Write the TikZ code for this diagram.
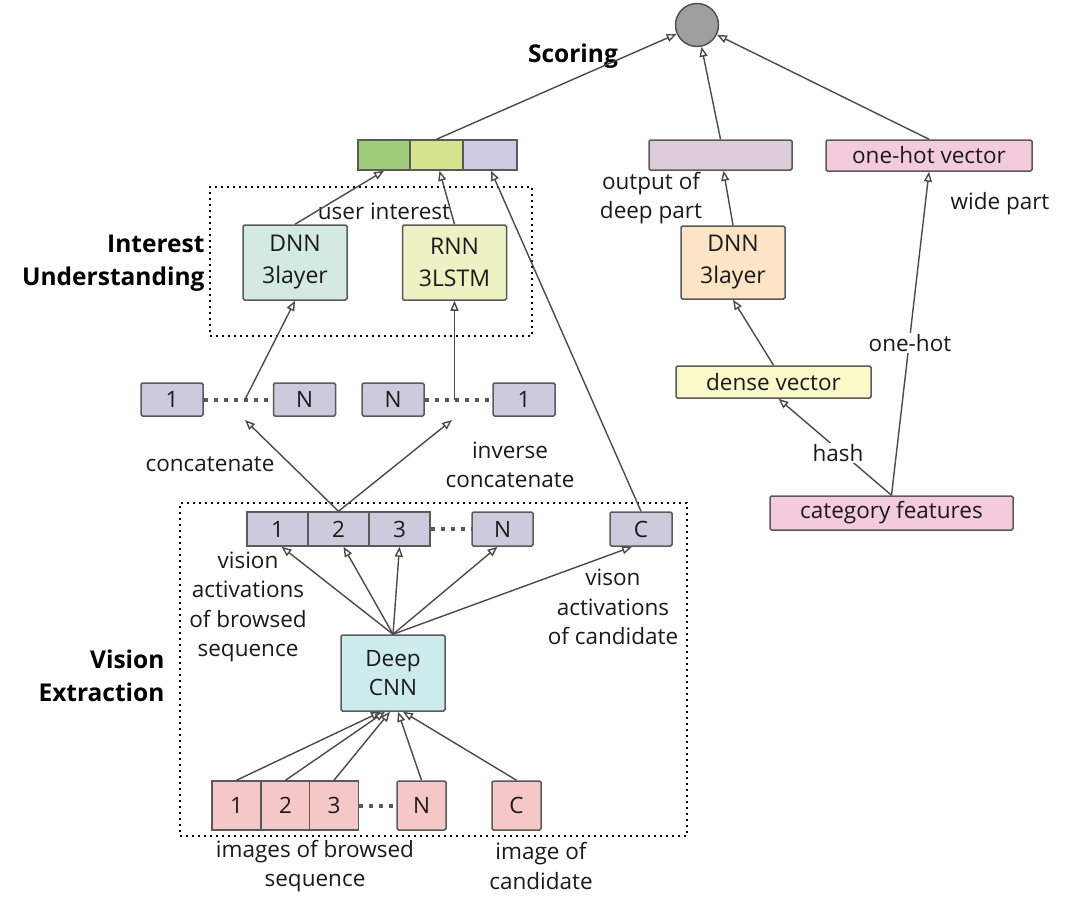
\documentclass[tikz,border=0pt]{standalone}
\usepackage{fontspec}
\setmainfont{Open Sans}
\usetikzlibrary{arrows.meta,calc}
\definecolor{lc}{HTML}{4A4A4A}
\definecolor{bc}{HTML}{5A5A5A}
\definecolor{tc}{HTML}{1A1A1A}
\definecolor{cgreen}{HTML}{9FCD7A}
\definecolor{cyg}{HTML}{D3E48D}
\definecolor{clav}{HTML}{CBCBE3}
\definecolor{cmauve}{HTML}{DCCBD9}
\definecolor{cpink}{HTML}{F3CBDC}
\definecolor{corange}{HTML}{FDE4C4}
\definecolor{cyellow}{HTML}{F9F9C9}
\definecolor{cmint}{HTML}{D2EADF}
\definecolor{clime}{HTML}{EEF1C4}
\definecolor{cseq}{HTML}{CBCBDD}
\definecolor{ccyan}{HTML}{CDEAED}
\definecolor{csalmon}{HTML}{F5C7C6}
\begin{document}
\begin{tikzpicture}[x=1pt,y=-1pt,
  every node/.style={font=\fontsize{22.5}{29.5}\selectfont, text=tc},
  bx/.style={draw=bc, line width=1.5pt, rounded corners=1.5pt, inner sep=0pt, align=center},
  twoline/.style={font=\fontsize{23}{32}\selectfont},
  lbl/.style={align=center, inner sep=1pt},
  bold/.style={font=\fontsize{24.5}{33}\selectfont\bfseries, align=right, text=black},
  arr/.style={draw=lc, line width=1.4pt, -{Triangle[open,length=10pt,width=8pt]}},
  dotbox/.style={draw=black, line width=2.2pt, dash pattern=on 2.2pt off 3.8pt, inner sep=0pt},
  dots/.style={draw=gray!70!black, line width=4pt, dash pattern=on 4pt off 6pt}
]
\useasboundingbox (0,0) rectangle (1078,899);

% scoring
\node[circle, draw=gray!60!black, fill=gray!75, line width=1.4pt, minimum size=43pt, inner sep=0pt] (out) at (697,25) {};
\node[font=\fontsize{24.5}{33}\selectfont\bfseries, text=black] (scoring) at (573,56) {Scoring};

% top vector
\node[bx, fill=cgreen, minimum width=52, minimum height=30, rounded corners=0pt] (v1) at (384,155) {};
\node[bx, fill=cyg, minimum width=53, minimum height=30, rounded corners=0pt] (v2) at (436.5,155) {};
\node[bx, fill=clav, minimum width=54, minimum height=30, rounded corners=0pt] (v3) at (490,155) {};

\node[bx, fill=cmauve, minimum width=143, minimum height=30] (deep) at (720.5,155) {};
\node[bx, fill=cpink, minimum width=206, minimum height=31] (onehot) at (929,155.5) {one-hot vector};
\node[lbl] (deeplbl) at (651,198) {output of\\deep part};
\node[lbl] (widelbl) at (1000,204) {wide part};

\node[bx, twoline, fill=corange, minimum width=104, minimum height=73] (dnnR) at (733,262.5) {DNN\\3layer};
\node[bx, fill=cyellow, minimum width=195, minimum height=32] (dense) at (773.5,382) {dense vector};
\node[bx, fill=cpink, minimum width=243, minimum height=34] (cat) at (891.5,513) {category features};

% interest understanding
\node[dotbox, minimum width=322, minimum height=149] (ibox) at (371,261.5) {};
\node[bold, anchor=east] (ilabel) at (208,263) {Interest\\Understanding};
\node[bx, twoline, fill=cmint, minimum width=104, minimum height=75] (dnnL) at (295,262.5) {DNN\\3layer};
\node[bx, twoline, fill=clime, minimum width=104, minimum height=75] (rnn) at (454.5,262.5) {RNN\\3LSTM};
\node[lbl] (uilbl) at (384,211) {user interest};

% sequence rows
\node[bx, fill=cseq, minimum width=62, minimum height=33] (s1) at (172,399.5) {1};
\node[bx, fill=cseq, minimum width=62, minimum height=33] (sN) at (304.5,399.5) {N};
\node[bx, fill=cseq, minimum width=62, minimum height=33] (rN) at (393,399.5) {N};
\node[bx, fill=cseq, minimum width=62, minimum height=33] (r1) at (524,399.5) {1};
\draw[dots] (s1.east) -- (sN.west);
\draw[dots] (rN.east) -- (r1.west);
\coordinate (d1) at (245,399.5);
\coordinate (d2) at (454.5,399.5);
\coordinate (c1) at (245,420);
\coordinate (c2) at (452,420);
\node[lbl] (conlbl) at (210,464) {concatenate};
\node[lbl] (invlbl) at (510,465) {inverse\\concatenate};

% vision extraction
\node[dotbox, minimum width=507, minimum height=333] (vbox) at (433.5,669.5) {};
\node[bold, anchor=east] (vlabel) at (168,676) {Vision\\Extraction};

\node[bx, fill=cseq, minimum width=61, minimum height=34, rounded corners=0pt] (a1) at (277.5,529) {1};
\node[bx, fill=cseq, minimum width=61, minimum height=34, rounded corners=0pt] (a2) at (338.5,529) {2};
\node[bx, fill=cseq, minimum width=61, minimum height=34, rounded corners=0pt] (a3) at (399.5,529) {3};
\node[bx, fill=cseq, minimum width=61, minimum height=34] (aN) at (502.5,529) {N};
\node[bx, fill=cseq, minimum width=62, minimum height=34] (aC) at (641,529) {C};
\draw[dots] (a3.east) -- (aN.west);

\node[bx, fill=ccyan, minimum width=104, minimum height=76] (cnn) at (393,673) {Deep\\CNN};

\node[bx, fill=csalmon, minimum width=49, minimum height=49, rounded corners=0pt] (i1) at (236.5,805.5) {1};
\node[bx, fill=csalmon, minimum width=49, minimum height=49, rounded corners=0pt] (i2) at (285.5,805.5) {2};
\node[bx, fill=csalmon, minimum width=49, minimum height=49, rounded corners=0pt] (i3) at (334,805.5) {3};
\node[bx, fill=csalmon, minimum width=49, minimum height=49] (iN) at (421.5,805.5) {N};
\node[bx, fill=csalmon, minimum width=49, minimum height=49] (iC) at (516.5,805.5) {C};
\draw[dots] (i3.east) -- (iN.west);

\node[lbl] (valbl) at (248,607) {vision\\activations\\of browsed\\sequence};
\node[lbl] (vclbl) at (613,607) {vison\\activations\\of candidate};
\node[lbl] (imlbl) at (315,866) {images of browsed\\sequence};
\node[lbl] (iclbl) at (541,866) {image of\\candidate};

% connectors
\draw[arr] (v2.north) -- (out);
\draw[arr] (deep.north) -- (out);
\draw[arr] (onehot.north) -- (out);
\draw[arr] (dnnR.north) -- ($(deep.south)+(3,0)$);
\draw[arr] (dense.north) -- (dnnR.south);
\draw[arr] (cat.north) -- ($(dense.south)+(5,0)$);
\draw[arr] (cat.north) -- (onehot.south);
\node[lbl, fill=white] (hashlbl) at (838,453) {hash};
\node[lbl, fill=white] (ohlbl) at (910,343) {one-hot};

\draw[arr] (dnnL.north) -- (v1.south);
\draw[arr] (rnn.north) -- ($(v2.south)+(3,0)$);
\draw[arr] (aC.north) -- ($(v3.south)+(1,0)$);
\draw[arr] (d1) -- (dnnL.south);
\draw[arr] (d2) -- (rnn.south);
\draw[arr] (a2.north) -- (c1);
\draw[arr] (a2.north) -- (c2);

\draw[arr] (cnn.north) -- ($(a1.south)+(4,0)$);
\draw[arr] (cnn.north) -- ($(a2.south)+(5,0)$);
\draw[arr] (cnn.north) -- (a3.south);
\draw[arr] (cnn.north) -- ($(aN.south)+(-5,0)$);
\draw[arr] (cnn.north) -- ($(aC.south)+(-9,0)$);

\draw[arr] (i1.north) -- ($(cnn.south)+(-12,0)$);
\draw[arr] (i2.north) -- ($(cnn.south)+(-8,0)$);
\draw[arr] (i3.north) -- ($(cnn.south)+(-3,0)$);
\draw[arr] (iN.north) -- ($(cnn.south)+(5,0)$);
\draw[arr] (iC.north) -- ($(cnn.south)+(10,0)$);
\end{tikzpicture}
\end{document}
